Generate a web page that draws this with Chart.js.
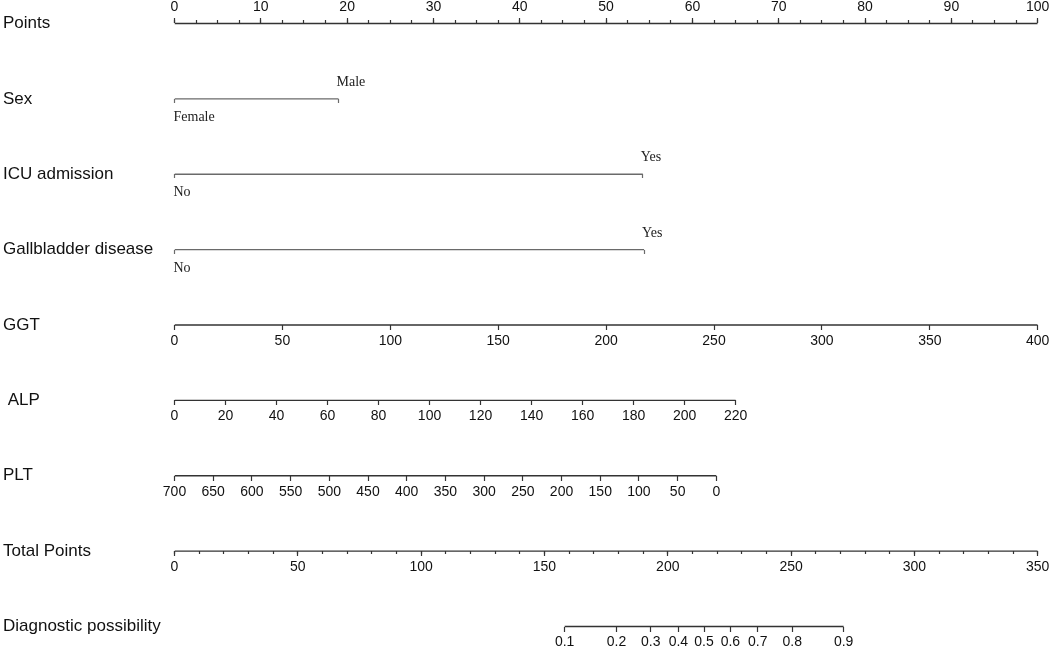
<!DOCTYPE html>
<html>
<head>
<meta charset="utf-8">
<script src="https://cdn.jsdelivr.net/npm/chart.js@4.4.0/dist/chart.umd.min.js"></script>
<style>
  html, body { margin: 0; padding: 0; background: #fff; }
</style>
</head>
<body>
<canvas id="nomogram" width="1052" height="651"></canvas>
<script>
// row titles, top to bottom (ALP has a leading space in the original)
const rowTitles = ['Points', 'Sex', 'ICU admission', 'Gallbladder disease', 'GGT', ' ALP', 'PLT', 'Total Points', 'Diagnostic possibility'];

// points scale
const pointsTicks = [0, 10, 20, 30, 40, 50, 60, 70, 80, 90, 100];
const pointsMinorStep = 2.5;

// categorical predictors: level names and the points they get
const sexLevels = ['Female', 'Male'];
const sexPoints = [0, 19.0];
const icuLevels = ['No', 'Yes'];
const icuPoints = [0, 54.25];
const gallLevels = ['No', 'Yes'];
const gallPoints = [0, 54.4];

// continuous predictors: tick values and points at the far end of the axis
const ggtTicks = [0, 50, 100, 150, 200, 250, 300, 350, 400];
const ggtPointsAtMax = 100;     // GGT 400
const alpTicks = [0, 20, 40, 60, 80, 100, 120, 140, 160, 180, 200, 220];
const alpPointsAtMax = 65.0;    // ALP 220
const pltTicks = [700, 650, 600, 550, 500, 450, 400, 350, 300, 250, 200, 150, 100, 50, 0];
const pltPointsAtZero = 62.77;  // PLT 0 (700 gives 0 points)

const totalTicks = [0, 50, 100, 150, 200, 250, 300, 350];
const totalMinorStep = 10;
const diagProbs = [0.1, 0.2, 0.3, 0.4, 0.5, 0.6, 0.7, 0.8, 0.9];
const diagTotal = [158.2, 179.2, 193.1, 204.3, 214.7, 225.4, 236.5, 250.5, 271.3];

const SANS = '"Liberation Sans", Arial, Helvetica, sans-serif';
const SERIF = '"Liberation Serif", "Times New Roman", serif';
const numFont = {family: SANS, size: 14};
const lvlFont = {family: SERIF, size: 14};
const AXIS = '#333';
const CAT = '#6a6a6a';

// one x axis laid on a row of the nomogram
function rowAxis(row, min, max, values, labels, o) {
    o = o || {};
    return {
        type: 'linear',
        axis: 'x',
        position: {y: row},
        min: min,
        max: max,
        reverse: !!o.reverse,
        bounds: 'data',
        border: {display: false},
        grid: {
            drawOnChartArea: false,
            drawTicks: !!o.tick,
            tickLength: o.tick || 0,
            tickColor: o.color || AXIS,
            tickWidth: 1.2
        },
        afterBuildTicks: s => { s.ticks = values.map(v => ({value: v})); },
        ticks: {
            display: labels !== null,
            autoSkip: false,
            maxRotation: 0,
            minRotation: 0,
            padding: o.pad || 0,
            align: o.align || 'center',
            labelOffset: o.offset || 0,
            font: o.font || numFont,
            color: o.textColor || '#111',
            callback: (v, i) => labels ? labels[i] : ''
        }
    };
}

function minorValues(max, step) {
    const out = [];
    for (let v = 0; v <= max + 1e-9; v += step) out.push(v);
    return out;
}

function rowLine(row, axisId, from, to, color) {
    return {
        xAxisID: axisId,
        yAxisID: 'y',
        data: [{x: from, y: row}, {x: to, y: row}],
        showLine: true,
        borderColor: color,
        borderWidth: 1.3,
        pointRadius: 0
    };
}

const alpMax = alpTicks.at(-1) * 100 / alpPointsAtMax;
const pltMin = pltTicks[0] - pltTicks[0] * 100 / pltPointsAtZero;
const ggtMax = ggtTicks.at(-1) * 100 / ggtPointsAtMax;
const totalMax = totalTicks.at(-1);

const lvlLow = {tick: 4, pad: 6.1, font: lvlFont, align: 'start', offset: -1, color: CAT, textColor: '#222'};
const lvlHigh = {pad: -24.9, font: lvlFont, align: 'start', offset: -2, textColor: '#222'};
const numLow = {tick: 5, pad: 2.6};

const scales = {
    y: {
        type: 'linear',
        position: 'left',
        reverse: true,
        min: -0.1763,
        max: 8.1896,
        bounds: 'data',
        grid: {display: false},
        border: {display: false},
        afterBuildTicks: s => { s.ticks = rowTitles.map((t, i) => ({value: i})); },
        afterFit: s => { s.width = 171.5; },
        ticks: {
            autoSkip: false,
            crossAlign: 'far',
            padding: 0,
            font: {family: SANS, size: 17},
            color: '#111',
            callback: (v, i) => rowTitles[i]
        }
    },
    x: rowAxis(0, 0, 100, pointsTicks, pointsTicks.map(String), {tick: -5, pad: -20}),
    xPointsMinor: rowAxis(0, 0, 100, minorValues(100, pointsMinorStep), null, {tick: -3}),

    xSex: rowAxis(1, 0, 100, sexPoints, [sexLevels[0], ''], lvlLow),
    xSexTop: rowAxis(1, 0, 100, [sexPoints[1]], [sexLevels[1]], lvlHigh),
    xIcu: rowAxis(2, 0, 100, icuPoints, [icuLevels[0], ''], lvlLow),
    xIcuTop: rowAxis(2, 0, 100, [icuPoints[1]], [icuLevels[1]], lvlHigh),
    xGall: rowAxis(3, 0, 100, gallPoints, [gallLevels[0], ''], lvlLow),
    xGallTop: rowAxis(3, 0, 100, [gallPoints[1]], [gallLevels[1]], lvlHigh),

    xGgt: rowAxis(4, 0, ggtMax, ggtTicks, ggtTicks.map(String), numLow),
    xAlp: rowAxis(5, 0, alpMax, alpTicks, alpTicks.map(String), numLow),
    xPlt: rowAxis(6, pltMin, pltTicks[0], pltTicks, pltTicks.map(String), Object.assign({reverse: true}, numLow)),
    xTotal: rowAxis(7, 0, totalMax, totalTicks, totalTicks.map(String), numLow),
    xTotalMinor: rowAxis(7, 0, totalMax, minorValues(totalMax, totalMinorStep), null, {tick: 3}),
    xDiag: rowAxis(8, 0, totalMax, diagTotal, diagProbs.map(String), numLow)
};

const datasets = [
    rowLine(0, 'x', pointsTicks[0], pointsTicks.at(-1), AXIS),
    rowLine(1, 'xSex', sexPoints[0], sexPoints[1], CAT),
    rowLine(2, 'xIcu', icuPoints[0], icuPoints[1], CAT),
    rowLine(3, 'xGall', gallPoints[0], gallPoints[1], CAT),
    rowLine(4, 'xGgt', ggtTicks[0], ggtTicks.at(-1), AXIS),
    rowLine(5, 'xAlp', alpTicks[0], alpTicks.at(-1), AXIS),
    rowLine(6, 'xPlt', pltTicks[0], pltTicks.at(-1), AXIS),
    rowLine(7, 'xTotal', totalTicks[0], totalTicks.at(-1), AXIS),
    rowLine(8, 'xDiag', diagTotal[0], diagTotal.at(-1), AXIS)
];

const nomogram = new Chart(document.getElementById('nomogram'), {
    type: 'scatter',
    data: {datasets: datasets},
    options: {
        responsive: false,
        animation: false,
        events: [],
        layout: {padding: {left: 3, right: 13.7, top: 10, bottom: 10}},
        plugins: {legend: {display: false}, tooltip: {enabled: false}},
        scales: scales
    }
});
</script>
</body>
</html>
